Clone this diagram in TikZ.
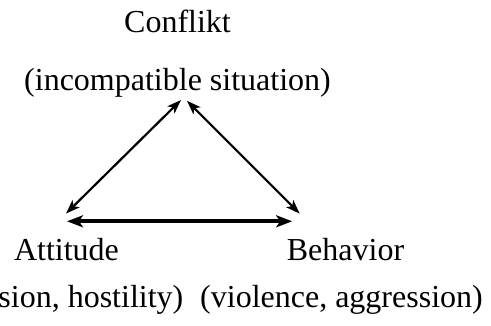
\documentclass[tikz,border=0pt]{standalone}
\usepackage{fontspec}
\setmainfont{Liberation Serif}
\usetikzlibrary{arrows.meta}

\begin{document}
\begin{tikzpicture}[x=1pt, y=1pt,
    lbl/.style={anchor=base, inner sep=0pt, font=\fontsize{32}{38}\selectfont},
    diag/.style={{Stealth[length=14pt,width=10pt,inset=3.5pt]}-{Stealth[length=14pt,width=10pt,inset=3.5pt]}, line width=2.2pt},
    flat/.style={{Stealth[length=16pt,width=12pt,inset=4pt]}-{Stealth[length=16pt,width=12pt,inset=4pt]}, line width=3.6pt}]
      \useasboundingbox (0,0) rectangle (491,325);
      \node[lbl] (conflikt) at (177.5,293) {Conflikt};
      \node[lbl] (situation) at (177.5,235) {(incompatible situation)};
      %
      \node[lbl] (attitude) at (66.5,65) {Attitude};
      \node[lbl] (tension) at (66,18) {(tension, hostility)};
      \node[lbl] (behavior) at (345.5,65) {Behavior};
      \node[lbl] (violence) at (341.5,18) {(violence, aggression)};
      %
      \draw[diag] ([shift={(3.5pt,-3pt)}]situation.south) -- ([shift={(-0.5pt,24pt)}]attitude.north);
      \draw[diag] ([shift={(9.5pt,-3.8pt)}]situation.south) -- ([shift={(13pt,24pt)}]behavior.north west);
      \draw[flat] ([shift={(0.5pt,16.3pt)}]attitude.north) -- ([shift={(5.5pt,16.3pt)}]behavior.north west);
    \end{tikzpicture}
\end{document}
